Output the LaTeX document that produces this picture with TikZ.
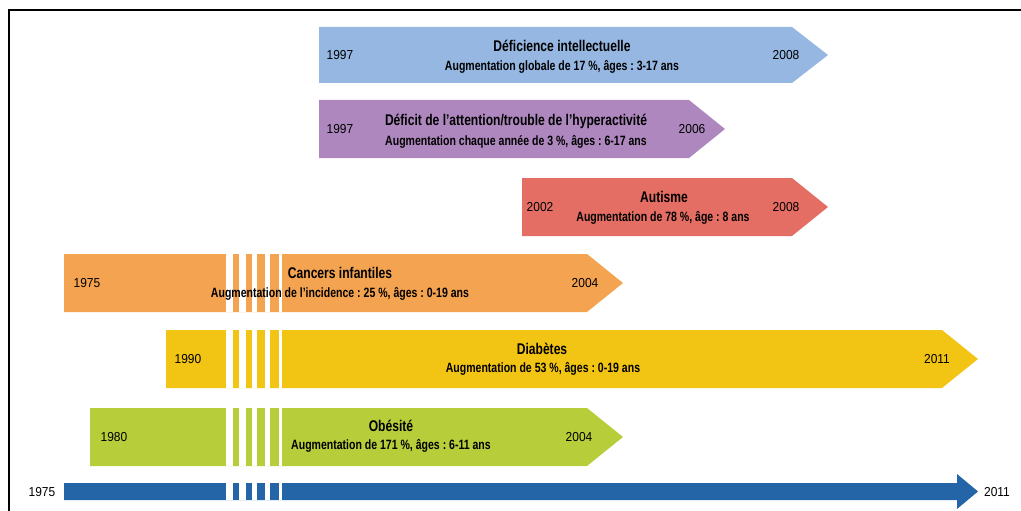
\documentclass[tikz,border=0pt]{standalone}
\usepackage{fontspec}
\setmainfont{Liberation Sans}[FakeStretch=0.78]
\newfontfamily\yearfont{Liberation Sans}[FakeStretch=0.92]
\usepackage{tikz}
\frenchspacing
\definecolor{DI}{RGB}{149,183,225}
\definecolor{TDAH}{RGB}{174,135,190}
\definecolor{AUT}{RGB}{229,110,100}
\definecolor{CAN}{RGB}{244,163,80}
\definecolor{DIA}{RGB}{242,196,20}
\definecolor{OBE}{RGB}{184,205,58}
\definecolor{AXE}{RGB}{35,101,166}
% bar with a pointed end: colour, left, tip, top, bottom
\newcommand{\drawbar}[5]{\fill[#1] (#2,#4)--(#3-36,#4)--(#3,{(#4+#5)/2})--(#3-36,#5)--(#2,#5)--cycle;}
% white cuts of the broken time scale
\newcommand{\drawgaps}[2]{
    \foreach \a/\b in {226/233,239/246,252/257,265/270,279/282}{
    \fill[white] (\a,#1) rectangle (\b,#2);
    }
}
\tikzset{
  titre/.style={font=\bfseries\fontsize{15.5}{15.5}\selectfont},
  sous/.style={font=\bfseries\fontsize{13.5}{13.5}\selectfont},
  annee/.style={font=\yearfont\fontsize{13}{13}\selectfont}
}

\begin{document}
\begin{tikzpicture}[x=1pt,y=-1pt,inner sep=0pt]
\useasboundingbox (0,0) rectangle (1021,511);
\draw[line width=2pt] (9,511)--(9,10)--(1021,10);
\drawbar{DI}{319}{828}{27}{83}
\drawbar{TDAH}{319}{725}{100}{158}
\drawbar{AUT}{522}{828}{178}{236}
\drawbar{CAN}{64}{623}{254}{312}\drawgaps{254}{312}
\drawbar{DIA}{166}{978}{330}{388}\drawgaps{330}{388}
\drawbar{OBE}{90}{623}{408}{466}\drawgaps{408}{466}
\fill[AXE] (64,483)--(957,483)--(957,474)--(978,491.5)--(957,509)--(957,500)--(64,500)--cycle;\drawgaps{483}{500}
\node[annee] (di-debut) at (340,55) {1997};\node[annee] (di-fin) at (786,55) {2008};
\node[titre] (di-titre) at (562,46) {Déficience intellectuelle};
\node[sous] (di-sous) at (562,67) {Augmentation globale de 17 \%, âges : 3-17 ans};
\node[annee] (tdah-debut) at (340,129) {1997};\node[annee] (tdah-fin) at (692,129) {2006};
\node[titre] (tdah-titre) at (516,121) {Déficit de l’attention/trouble de l’hyperactivité};
\node[sous] (tdah-sous) at (516,142) {Augmentation chaque année de 3 \%, âges : 6-17 ans};
\node[annee] (aut-debut) at (540,207) {2002};\node[annee] (aut-fin) at (786,207) {2008};
\node[titre] (aut-titre) at (664,197) {Autisme};
\node[sous] (aut-sous) at (663,218) {Augmentation de 78 \%, âge : 8 ans};
\node[annee] (can-debut) at (87,283) {1975};\node[annee] (can-fin) at (585,283) {2004};
\node[titre] (can-titre) at (340,273) {Cancers infantiles};
\node[sous] (can-sous) at (340,294) {Augmentation de l’incidence : 25 \%, âges : 0-19 ans};
\node[annee] (dia-debut) at (188,359) {1990};\node[annee] (dia-fin) at (937,359) {2011};
\node[titre] (dia-titre) at (542,349) {Diabètes};
\node[sous] (dia-sous) at (543,369) {Augmentation de 53 \%, âges : 0-19 ans};
\node[annee] (obe-debut) at (114,437) {1980};\node[annee] (obe-fin) at (579,437) {2004};
\node[titre] (obe-titre) at (391,426) {Obésité};
\node[sous] (obe-sous) at (391,446) {Augmentation de 171 \%, âges : 6-11 ans};
\node[annee] (axe-debut) at (42,492) {1975};\node[annee] (axe-fin) at (997,492) {2011};
\end{tikzpicture}
\end{document}
